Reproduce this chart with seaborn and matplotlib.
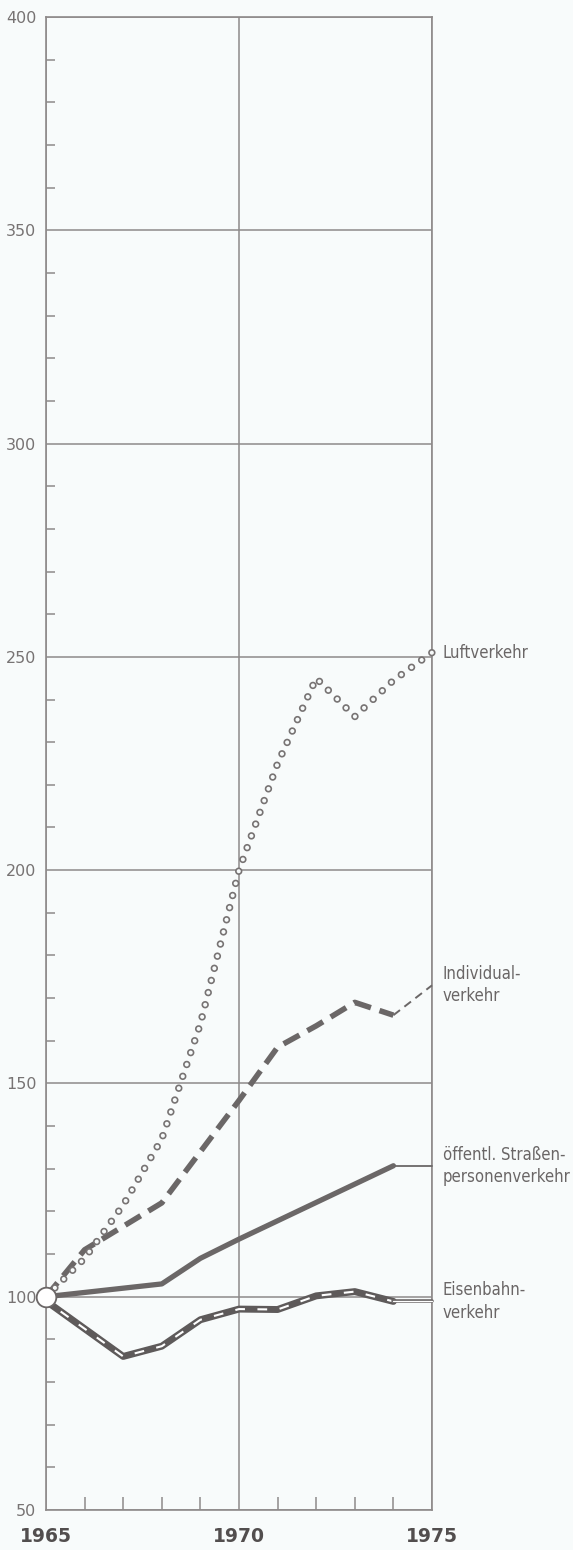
import matplotlib
matplotlib.use("Agg")
import matplotlib.pyplot as plt
from matplotlib.ticker import MultipleLocator, FixedLocator
import seaborn as sns

# ---- data (index, 1965 = 100) ----
years = [1965, 1966, 1967, 1968, 1969, 1970, 1971, 1972, 1973, 1974, 1975]
luftverkehr = [100, 109, 121.5, 137, 164, 200, 225, 245, 236, 244.5, 251]
individualverkehr = [100, 111, 116.5, 122, 134, 146, 158.5, 163.5, 169, 166, 173]
strassenverkehr = [100, 101, 102, 103, 109, 113.5, 117.8, 122.1, 126.4, 130.7, 130.7]
eisenbahnverkehr = [99, 92.5, 86, 88.4, 94.6, 97.1, 97.0, 100.2, 101.2, 98.9, 98.9]

series_labels = ["Luftverkehr", "Individual-\nverkehr",
                 "öffentl. Straßen-\npersonenverkehr", "Eisenbahn-\nverkehr"]
y_ticks = [50, 100, 150, 200, 250, 300, 350, 400]
x_ticks = [1965, 1970, 1975]

# ---- style ----
BG = "#f8fbfb"
GRID = "#8e8a8a"
LINE = "#6b6767"
TXT = "#6a6666"

sns.set_theme(style="white")
plt.rcParams["font.family"] = ["DejaVu Sans"]
plt.rcParams["lines.scale_dashes"] = False

fig = plt.figure(figsize=(5.73, 15.5), dpi=100)
fig.patch.set_facecolor(BG)
ax = fig.add_axes([46 / 573, 1 - 1510 / 1550, (432 - 46) / 573, (1510 - 17) / 1550])
ax.set_facecolor(BG)

ax.set_xlim(1965, 1975)
ax.set_ylim(50, 400)
ax.xaxis.set_major_locator(FixedLocator(x_ticks))
ax.yaxis.set_major_locator(FixedLocator(y_ticks))
ax.xaxis.set_minor_locator(MultipleLocator(1))
ax.yaxis.set_minor_locator(MultipleLocator(10))
ax.set_xticklabels([str(t) for t in x_ticks], fontsize=13.5, fontweight="bold", color="#524e4e")
ax.set_yticklabels([str(t) for t in y_ticks], fontsize=11.5, color="#777373")
ax.tick_params(axis="both", which="major", length=0)
ax.tick_params(axis="x", which="major", pad=12)
ax.tick_params(axis="y", which="major", pad=7)
ax.tick_params(axis="x", which="minor", direction="in", length=9.5, width=1.1, color=GRID, bottom=True)
ax.tick_params(axis="y", which="minor", direction="in", length=6.5, width=1.1, color=GRID, left=True)
ax.grid(True, which="major", color=GRID, linewidth=1.1)
for sp in ax.spines.values():
    sp.set_visible(True)
    sp.set_color(GRID)
    sp.set_linewidth(1.2)

# ---- Luftverkehr: hollow circles along the path ----
ring = (0, (0.01, 9.0))
sns.lineplot(x=years, y=luftverkehr, ax=ax, color="#777373", linewidth=5.4,
             linestyle=ring, dash_capstyle="round", clip_on=False, zorder=5)
sns.lineplot(x=years, y=luftverkehr, ax=ax, color=BG, linewidth=3.0,
             linestyle=ring, dash_capstyle="round", clip_on=False, zorder=6)

# ---- Individualverkehr: thick dashes, thin dashes for last segment ----
sns.lineplot(x=years[:-1], y=individualverkehr[:-1], ax=ax, color=LINE, linewidth=4.0,
             linestyle=(0, (13, 6.5)), zorder=4)
sns.lineplot(x=years[-2:], y=individualverkehr[-2:], ax=ax, color=LINE, linewidth=1.4,
             linestyle=(0, (6, 4)), zorder=4, clip_on=False)

# ---- öffentl. Straßenpersonenverkehr: solid ----
sns.lineplot(x=years[:-1], y=strassenverkehr[:-1], ax=ax, color=LINE, linewidth=3.8,
             solid_capstyle="round", zorder=4)
sns.lineplot(x=years[-2:], y=strassenverkehr[-2:], ax=ax, color=LINE, linewidth=1.3,
             zorder=4, clip_on=False)

# ---- Eisenbahnverkehr: dark band with white dashes ----
sns.lineplot(x=years[:-1], y=eisenbahnverkehr[:-1], ax=ax, color="#5e5a5a", linewidth=5.0,
             solid_capstyle="round", zorder=4)
sns.lineplot(x=years[:-1], y=eisenbahnverkehr[:-1], ax=ax, color="white", linewidth=1.5,
             linestyle=(3, (7, 9)), zorder=4)
sns.lineplot(x=years[-2:], y=eisenbahnverkehr[-2:], ax=ax, color=LINE, linewidth=2.6,
             zorder=4, clip_on=False)
sns.lineplot(x=years[-2:], y=eisenbahnverkehr[-2:], ax=ax, color="white", linewidth=0.9,
             zorder=4, clip_on=False)

# ---- start circle ----
sns.scatterplot(x=[years[0]], y=[luftverkehr[0]], ax=ax, s=200, color="white",
                edgecolor=LINE, linewidth=1.3, zorder=10, clip_on=False)

# ---- end labels ----
ends = [luftverkehr[-1], individualverkehr[-1], strassenverkehr[-1], eisenbahnverkehr[-1]]
for lab, yv in zip(series_labels, ends):
    ax.text(1975.28, yv, lab, ha="left", va="center", fontsize=12, color=TXT,
            fontstretch="condensed", linespacing=1.3)

ax.set_xlabel("")
ax.set_ylabel("")
fig.savefig("out.png", dpi=100, facecolor=BG)
